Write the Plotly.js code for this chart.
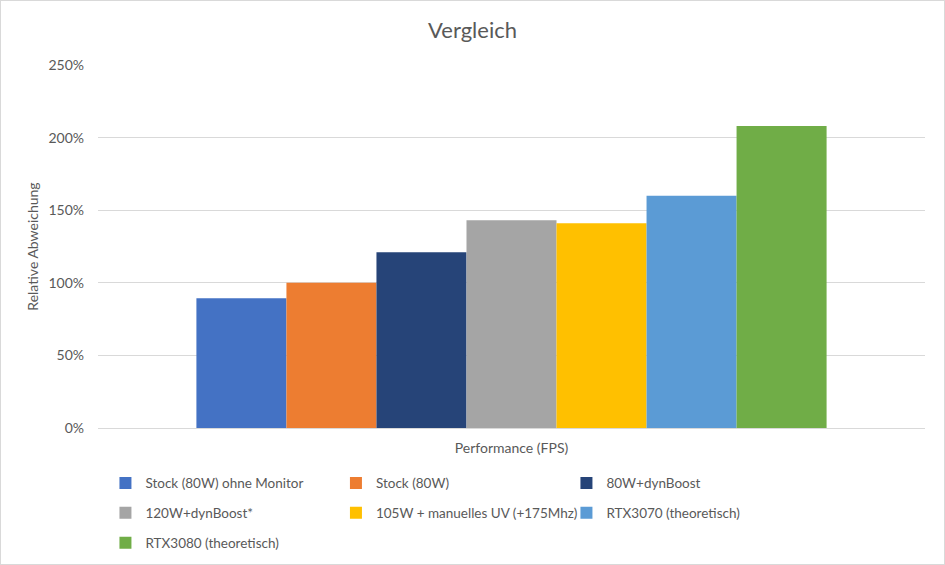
<!DOCTYPE html>
<html>
<head>
<meta charset="utf-8">
<script src="https://cdn.plot.ly/plotly-3.0.1.min.js"></script>
<style>
  html, body { margin: 0; padding: 0; background: #fff; }
  #chart { width: 943px; height: 563px; border: 1px solid #d9d9d9; }
</style>
</head>
<body>
<div id="chart"></div>
<script>
const category = ["Performance (FPS)"];
const seriesNames = [
  "Stock (80W) ohne Monitor",
  "Stock (80W)",
  "80W+dynBoost",
  "120W+dynBoost*",
  "105W + manuelles UV (+175Mhz)",
  "RTX3070 (theoretisch)",
  "RTX3080 (theoretisch)"
];
const seriesValues = [0.893, 1.00, 1.21, 1.43, 1.41, 1.60, 2.08];
const seriesColors = ["#4472C4", "#ED7D31", "#264478", "#A5A5A5", "#FFC000", "#5B9BD5", "#70AD47"];
const legendGroups = ["legend", "legend", "legend", "legend2", "legend2", "legend2", "legend3"];
const yTicks = [0, 0.5, 1.0, 1.5, 2.0, 2.5];

const FONT = "Lato, 'Open Sans', sans-serif";
const TXT = "#595959";

const traces = seriesNames.map((name, i) => ({
  type: "bar",
  name: name,
  x: category,
  y: [seriesValues[i]],
  marker: { color: seriesColors[i], line: { width: 0 } },
  legend: legendGroups[i],
  hoverinfo: "name+y"
}));

const legendBase = {
  orientation: "h",
  xanchor: "left",
  yanchor: "middle",
  x: 0.009,
  entrywidth: 185.5,
  entrywidthmode: "pixels",
  font: { family: FONT, size: 13.5, color: TXT },
  bgcolor: "rgba(0,0,0,0)",
  traceorder: "normal"
};

const layout = {
  width: 943,
  height: 563,
  margin: { l: 97, r: 19, t: 64, b: 136, autoexpand: false },
  paper_bgcolor: "#ffffff",
  plot_bgcolor: "#ffffff",
  font: { family: FONT, color: TXT },
  title: {
    text: "Vergleich",
    font: { family: FONT, size: 22, color: TXT },
    x: 0.5, xanchor: "center",
    y: 0.948, yanchor: "middle"
  },
  barmode: "group",
  bargap: 0.238,
  bargroupgap: 0,
  xaxis: {
    type: "category",
    showgrid: false,
    showline: true,
    linecolor: "#d9d9d9",
    linewidth: 1,
    ticks: "",
    ticklabelstandoff: 7,
    tickfont: { family: FONT, size: 14, color: TXT },
    fixedrange: true
  },
  yaxis: {
    range: [0, 2.5],
    tickvals: yTicks,
    tickformat: ".0%",
    showgrid: true,
    gridcolor: "#d9d9d9",
    gridwidth: 1,
    zeroline: false,
    showline: false,
    ticks: "",
    ticklabelstandoff: 13,
    tickfont: { family: FONT, size: 14, color: TXT },
    title: { text: "Relative Abweichung", font: { family: FONT, size: 14, color: TXT }, standoff: 6 },
    fixedrange: true
  },
  legend: Object.assign({}, legendBase, { y: -0.152 }),
  legend2: Object.assign({}, legendBase, { y: -0.234 }),
  legend3: Object.assign({}, legendBase, { y: -0.317 }),
  showlegend: true
};

Plotly.newPlot("chart", traces, layout, { displayModeBar: false, staticPlot: true });
</script>
</body>
</html>
